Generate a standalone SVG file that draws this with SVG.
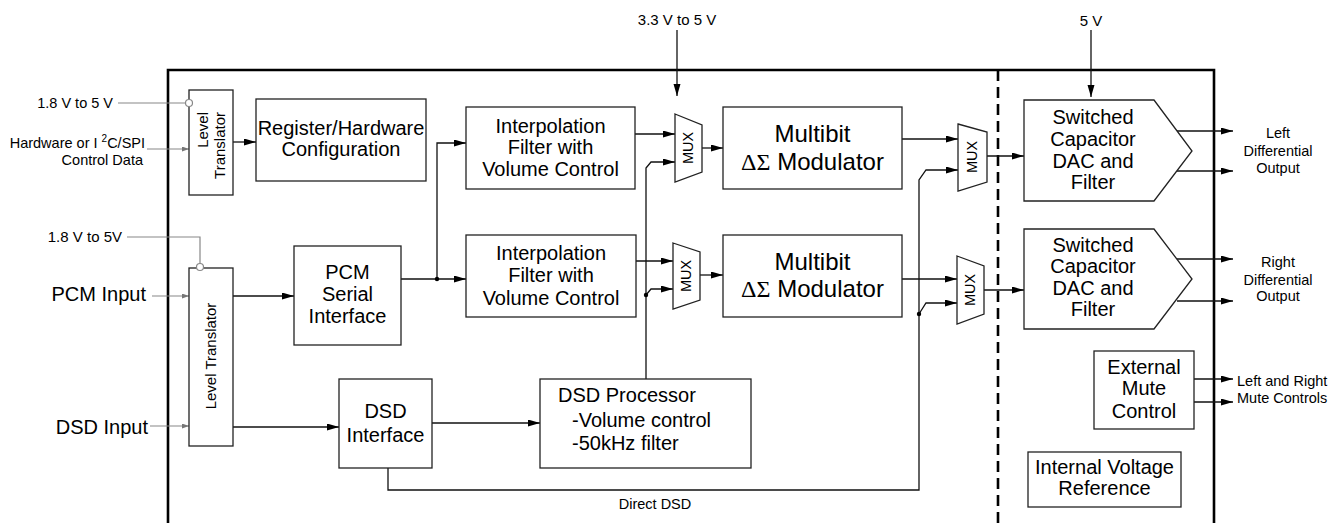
<svg xmlns="http://www.w3.org/2000/svg" width="1338" height="523" viewBox="0 0 1338 523">
<style>
text{font-family:"Liberation Sans",Arial,sans-serif;fill:#000}
.big{font-size:20px;text-anchor:middle}
.mb{font-size:24px;text-anchor:middle}
.sm{font-size:14.5px}
.mid{text-anchor:middle}
.end{text-anchor:end}
.box{fill:#fff;stroke:#222;stroke-width:1.3}
.ln{fill:none;stroke:#111;stroke-width:1.3}
.gl{fill:none;stroke:#888;stroke-width:1.2}
.frame{fill:none;stroke:#000;stroke-width:2.6}
.sym{font-family:"Liberation Serif","Times New Roman",serif}
</style>
<defs>
<marker id="a" markerUnits="userSpaceOnUse" markerWidth="13" markerHeight="8" refX="12" refY="3.5" orient="auto"><path d="M0,0 L12,3.5 L0,7 z" fill="#000"/></marker>
<marker id="g" markerUnits="userSpaceOnUse" markerWidth="8" markerHeight="6" refX="7" refY="2.5" orient="auto"><path d="M0,0 L7,2.5 L0,5 z" fill="#777"/></marker>
</defs>
<rect width="1338" height="523" fill="#fff"/>

<g id="frame">
<path class="frame" d="M168,523 V70 H1214 V523"/>
<line x1="998" y1="70" x2="998" y2="523" stroke="#000" stroke-width="2.6" stroke-dasharray="11,6"/>
</g>

<g id="connectors">
<!-- external inputs -->
<line class="gl" x1="118" y1="103" x2="185.5" y2="103"/>
<line class="gl" x1="147" y1="149" x2="189" y2="149" marker-end="url(#g)"/>
<path class="gl" d="M127,237 H200 V263.5"/>
<line class="gl" x1="152" y1="296" x2="189" y2="296" marker-end="url(#g)"/>
<line class="gl" x1="150" y1="426" x2="189" y2="426" marker-end="url(#g)"/>
<!-- supply arrows -->
<line class="ln" x1="677" y1="30" x2="677" y2="96" marker-end="url(#a)"/>
<line class="ln" x1="1091" y1="30" x2="1091" y2="97" marker-end="url(#a)"/>
<!-- internal -->
<line class="ln" x1="233" y1="142" x2="256" y2="142" marker-end="url(#a)"/>
<line class="ln" x1="233" y1="296" x2="294" y2="296" marker-end="url(#a)"/>
<line class="ln" x1="233" y1="427" x2="339" y2="427" marker-end="url(#a)"/>
<line class="ln" x1="401" y1="279" x2="466" y2="279" marker-end="url(#a)"/>
<path class="ln" d="M437,279 V143 H466" marker-end="url(#a)"/>
<circle cx="437" cy="279" r="2.2" fill="#000"/>
<line class="ln" x1="635" y1="134" x2="675" y2="134" marker-end="url(#a)"/>
<line class="ln" x1="636" y1="261" x2="673" y2="261" marker-end="url(#a)"/>
<line class="ln" x1="702" y1="148" x2="723" y2="148" marker-end="url(#a)"/>
<line class="ln" x1="700" y1="275" x2="723" y2="275" marker-end="url(#a)"/>
<path class="ln" d="M646,379 V168 L651,162 H675" marker-end="url(#a)"/>
<path class="ln" d="M646,295 L651,289 H673" marker-end="url(#a)"/>
<circle cx="646" cy="295" r="2.2" fill="#000"/>
<line class="ln" x1="902" y1="139" x2="958" y2="139" marker-end="url(#a)"/>
<line class="ln" x1="902" y1="279" x2="957" y2="279" marker-end="url(#a)"/>
<path class="ln" d="M388,468 V490 H919 V180 L926,170 H958" marker-end="url(#a)"/>
<path class="ln" d="M919,314 L926,303 H957" marker-end="url(#a)"/>
<circle cx="919" cy="314" r="2.2" fill="#000"/>
<line class="ln" x1="987" y1="156" x2="1024" y2="156" marker-end="url(#a)"/>
<line class="ln" x1="984" y1="290" x2="1024" y2="290" marker-end="url(#a)"/>
<line class="ln" x1="432" y1="423" x2="540" y2="423" marker-end="url(#a)"/>
<line class="ln" x1="1177" y1="131" x2="1233" y2="131" marker-end="url(#a)"/>
<line class="ln" x1="1177" y1="171" x2="1233" y2="171" marker-end="url(#a)"/>
<line class="ln" x1="1177" y1="259" x2="1233" y2="259" marker-end="url(#a)"/>
<line class="ln" x1="1177" y1="301" x2="1233" y2="301" marker-end="url(#a)"/>
<line class="ln" x1="1194" y1="379" x2="1233" y2="379" marker-end="url(#a)"/>
<line class="ln" x1="1194" y1="402" x2="1233" y2="402" marker-end="url(#a)"/>
</g>

<g id="labels">
<text class="sm end" x="113" y="108" font-size="15">1.8 V to 5 V</text>
<text class="sm end" x="145" y="148">Hardware or I <tspan font-size="10" dy="-6">2</tspan><tspan dy="6">C/SPI</tspan></text>
<text class="sm end" x="143" y="165">Control Data</text>
<text class="sm end" x="122" y="242" style="font-size:15px">1.8 V to 5V</text>
<text class="end" x="146" y="301" font-size="20">PCM Input</text>
<text class="end" x="148" y="434" font-size="20">DSD Input</text>
<text class="sm mid" x="677" y="25" style="font-size:15px">3.3 V to 5 V</text>
<text class="sm mid" x="1091" y="26" style="font-size:15px">5 V</text>
<text class="sm mid" x="1278" y="138">Left</text>
<text class="sm mid" x="1278" y="156">Differential</text>
<text class="sm mid" x="1278" y="173">Output</text>
<text class="sm mid" x="1278" y="267">Right</text>
<text class="sm mid" x="1278" y="285">Differential</text>
<text class="sm mid" x="1278" y="301">Output</text>
<text class="sm" x="1237" y="386">Left and Right</text>
<text class="sm" x="1237" y="403">Mute Controls</text>
<text class="sm mid" x="655" y="509">Direct DSD</text>
</g>

<g id="lt1">
<rect class="box" x="189" y="90" width="44" height="105"/>
<circle cx="189" cy="103" r="3.5" fill="#fff" stroke="#888" stroke-width="1.2"/>
<text class="sm end" transform="translate(208,112) rotate(-90)" style="font-size:15px">Level</text>
<text class="sm end" transform="translate(225,112) rotate(-90)" style="font-size:15px">Translator</text>
</g>

<g id="lt2">
<rect class="box" x="189" y="268" width="44" height="178"/>
<circle cx="200" cy="267" r="3.5" fill="#fff" stroke="#888" stroke-width="1.2"/>
<text class="sm mid" transform="translate(216,356) rotate(-90)" style="font-size:15px">Level Translator</text>
</g>

<g id="reg">
<rect class="box" x="256" y="99" width="170" height="82"/>
<text class="big" x="341" y="135">Register/Hardware</text>
<text class="big" x="341" y="156">Configuration</text>
</g>

<g id="pcm">
<rect class="box" x="294" y="246" width="107" height="99"/>
<text class="big" x="347.5" y="279">PCM</text>
<text class="big" x="347.5" y="301">Serial</text>
<text class="big" x="347.5" y="323">Interface</text>
</g>

<g id="dsdif">
<rect class="box" x="339" y="379" width="93" height="89"/>
<text class="big" x="385.5" y="418">DSD</text>
<text class="big" x="385.5" y="442">Interface</text>
</g>

<g id="dsdproc">
<rect class="box" x="540" y="379" width="211" height="89"/>
<text x="558" y="402" font-size="20">DSD Processor</text>
<text x="572" y="427" font-size="20">-Volume control</text>
<text x="572" y="450" font-size="20">-50kHz filter</text>
</g>

<g id="interp1">
<rect class="box" x="466" y="107" width="169" height="82"/>
<text class="big" x="550.5" y="133">Interpolation</text>
<text class="big" x="550.5" y="154">Filter with</text>
<text class="big" x="550.5" y="176">Volume Control</text>
</g>

<g id="interp2">
<rect class="box" x="466" y="235" width="170" height="82"/>
<text class="big" x="551" y="260">Interpolation</text>
<text class="big" x="551" y="282">Filter with</text>
<text class="big" x="551" y="305">Volume Control</text>
</g>

<g id="mux1">
<polygon class="box" points="675,114 702,125 702,172 675,182"/>
<text class="sm mid" transform="translate(693,148) rotate(-90)">MUX</text>
</g>
<g id="mux2">
<polygon class="box" points="673,243 700,252 700,300 673,309"/>
<text class="sm mid" transform="translate(691,276) rotate(-90)">MUX</text>
</g>

<g id="mod1">
<rect class="box" x="723" y="107" width="179" height="82"/>
<text class="mb" x="812.5" y="142">Multibit</text>
<text class="mb" x="812.5" y="170"><tspan class="sym">ΔΣ</tspan> Modulator</text>
</g>
<g id="mod2">
<rect class="box" x="723" y="235" width="179" height="82"/>
<text class="mb" x="812.5" y="270">Multibit</text>
<text class="mb" x="812.5" y="297"><tspan class="sym">ΔΣ</tspan> Modulator</text>
</g>

<g id="mux3">
<polygon class="box" points="958,124 987,132 987,182 958,191"/>
<text class="sm mid" transform="translate(977,157) rotate(-90)">MUX</text>
</g>
<g id="mux4">
<polygon class="box" points="957,256 984,266 984,314 957,324"/>
<text class="sm mid" transform="translate(975,290) rotate(-90)">MUX</text>
</g>

<g id="dac1">
<polygon class="box" points="1024,100 1154,100 1192,151 1154,201 1024,201"/>
<text class="big" x="1093" y="124">Switched</text>
<text class="big" x="1093" y="146">Capacitor</text>
<text class="big" x="1093" y="168">DAC and</text>
<text class="big" x="1093" y="189">Filter</text>
</g>
<g id="dac2">
<polygon class="box" points="1024,229 1154,229 1192,279 1154,329 1024,329"/>
<text class="big" x="1093" y="252">Switched</text>
<text class="big" x="1093" y="273">Capacitor</text>
<text class="big" x="1093" y="295">DAC and</text>
<text class="big" x="1093" y="316">Filter</text>
</g>

<g id="mute">
<rect class="box" x="1094" y="351" width="100" height="78"/>
<text class="big" x="1144" y="374">External</text>
<text class="big" x="1144" y="395">Mute</text>
<text class="big" x="1144" y="418">Control</text>
</g>

<g id="vref">
<rect class="box" x="1028" y="452" width="153" height="55"/>
<text class="big" x="1104.5" y="474">Internal Voltage</text>
<text class="big" x="1104.5" y="495">Reference</text>
</g>
</svg>
